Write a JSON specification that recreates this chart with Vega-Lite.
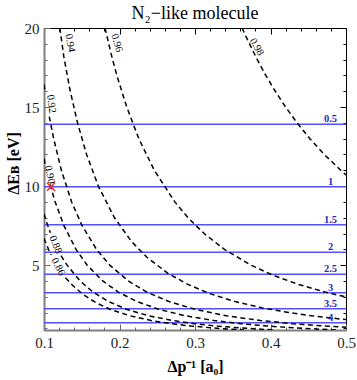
{
 "$schema": "https://vega.github.io/schema/vega-lite/v6.json",
 "width": 302, "height": 302,
 "autosize": "none",
 "padding": {"left": 44, "top": 28, "right": 11, "bottom": 50},
 "background": "white",
 "title": {"text": "N₂−like molecule", "font": "Liberation Serif", "fontSize": 18, "fontWeight": "normal", "color": "black", "baseline": "alphabetic", "offset": -7, "dy": 9},
 "datasets": {
  "curves": [
   {"lev":"0.98","x":0.3624,"y":20},{"lev":"0.98","x":0.3671,"y":19.5},{"lev":"0.98","x":0.3814,"y":18.1},{"lev":"0.98","x":0.3938,"y":17},{"lev":"0.98","x":0.4063,"y":16},{"lev":"0.98","x":0.42,"y":15},{"lev":"0.98","x":0.4352,"y":14},{"lev":"0.98","x":0.4522,"y":13},{"lev":"0.98","x":0.4713,"y":12},{"lev":"0.98","x":0.4931,"y":11},{"lev":"0.98","x":0.5,"y":10.71},
   {"lev":"0.96","x":0.1808,"y":20},{"lev":"0.96","x":0.1903,"y":18.1},{"lev":"0.96","x":0.1965,"y":17},{"lev":"0.96","x":0.2096,"y":15},{"lev":"0.96","x":0.2256,"y":13},{"lev":"0.96","x":0.2461,"y":11},{"lev":"0.96","x":0.2733,"y":9},{"lev":"0.96","x":0.2908,"y":8},{"lev":"0.96","x":0.3121,"y":7},{"lev":"0.96","x":0.339,"y":6},{"lev":"0.96","x":0.3742,"y":5},{"lev":"0.96","x":0.4015,"y":4.4},{"lev":"0.96","x":0.4358,"y":3.8},{"lev":"0.96","x":0.4722,"y":3.3},{"lev":"0.96","x":0.5,"y":2.99},
   {"lev":"0.94","x":0.121,"y":20},{"lev":"0.94","x":0.1262,"y":18.2},{"lev":"0.94","x":0.1348,"y":16},{"lev":"0.94","x":0.1444,"y":14},{"lev":"0.94","x":0.1564,"y":12},{"lev":"0.94","x":0.172,"y":10},{"lev":"0.94","x":0.1933,"y":8},{"lev":"0.94","x":0.2159,"y":6.5},{"lev":"0.94","x":0.2363,"y":5.5},{"lev":"0.94","x":0.2637,"y":4.5},{"lev":"0.94","x":0.2898,"y":3.8},{"lev":"0.94","x":0.3196,"y":3.2},{"lev":"0.94","x":0.3531,"y":2.7},{"lev":"0.94","x":0.389,"y":2.3},{"lev":"0.94","x":0.4246,"y":2.0},{"lev":"0.94","x":0.4545,"y":1.8},{"lev":"0.94","x":0.4918,"y":1.6},{"lev":"0.94","x":0.5,"y":1.57},
   {"lev":"0.92a","x":0.1,"y":16.43},{"lev":"0.92a","x":0.1015,"y":16.0},
   {"lev":"0.92","x":0.107,"y":14.4},{"lev":"0.92","x":0.1128,"y":13},{"lev":"0.92","x":0.123,"y":11},{"lev":"0.92","x":0.1366,"y":9},{"lev":"0.92","x":0.1504,"y":7.5},{"lev":"0.92","x":0.1695,"y":6},{"lev":"0.92","x":0.1871,"y":5},{"lev":"0.92","x":0.2117,"y":4},{"lev":"0.92","x":0.2361,"y":3.3},{"lev":"0.92","x":0.2655,"y":2.7},{"lev":"0.92","x":0.3007,"y":2.2},{"lev":"0.92","x":0.3417,"y":1.8},{"lev":"0.92","x":0.3867,"y":1.5},{"lev":"0.92","x":0.4288,"y":1.3},{"lev":"0.92","x":0.4714,"y":1.15},{"lev":"0.92","x":0.5,"y":1.07},
   {"lev":"0.90a","x":0.1,"y":11.73},{"lev":"0.90a","x":0.1018,"y":11.35},
   {"lev":"0.90","x":0.1081,"y":10.1},{"lev":"0.90","x":0.1148,"y":9},{"lev":"0.90","x":0.1264,"y":7.5},{"lev":"0.90","x":0.1424,"y":6},{"lev":"0.90","x":0.1572,"y":5},{"lev":"0.90","x":0.1779,"y":4},{"lev":"0.90","x":0.1984,"y":3.3},{"lev":"0.90","x":0.2231,"y":2.7},{"lev":"0.90","x":0.2527,"y":2.2},{"lev":"0.90","x":0.2872,"y":1.8},{"lev":"0.90","x":0.325,"y":1.5},{"lev":"0.90","x":0.3604,"y":1.3},{"lev":"0.90","x":0.3962,"y":1.15},{"lev":"0.90","x":0.434,"y":1.03},{"lev":"0.90","x":0.4662,"y":0.95},{"lev":"0.90","x":0.4903,"y":0.9},
   {"lev":"0.88a","x":0.1,"y":8.23},{"lev":"0.88a","x":0.105,"y":7.5},{"lev":"0.88a","x":0.1085,"y":7.05},
   {"lev":"0.88","x":0.1225,"y":5.6},{"lev":"0.88","x":0.1306,"y":5},{"lev":"0.88","x":0.1478,"y":4},{"lev":"0.88","x":0.1649,"y":3.3},{"lev":"0.88","x":0.1854,"y":2.7},{"lev":"0.88","x":0.2099,"y":2.2},{"lev":"0.88","x":0.2386,"y":1.8},{"lev":"0.88","x":0.27,"y":1.5},{"lev":"0.88","x":0.2994,"y":1.3},{"lev":"0.88","x":0.3291,"y":1.15},{"lev":"0.88","x":0.3606,"y":1.03},{"lev":"0.88","x":0.3873,"y":0.95},{"lev":"0.88","x":0.4074,"y":0.9},
   {"lev":"0.86a","x":0.1,"y":6.69},{"lev":"0.86a","x":0.106,"y":6},{"lev":"0.86a","x":0.1095,"y":5.65},
   {"lev":"0.86","x":0.1285,"y":4.2},{"lev":"0.86","x":0.1384,"y":3.7},{"lev":"0.86","x":0.1531,"y":3.1},{"lev":"0.86","x":0.1698,"y":2.6},{"lev":"0.86","x":0.1881,"y":2.2},{"lev":"0.86","x":0.2138,"y":1.8},{"lev":"0.86","x":0.2419,"y":1.5},{"lev":"0.86","x":0.2682,"y":1.3},{"lev":"0.86","x":0.2949,"y":1.15},{"lev":"0.86","x":0.323,"y":1.03},{"lev":"0.86","x":0.347,"y":0.95},{"lev":"0.86","x":0.365,"y":0.9}
  ],
  "levels": [
   {"n":"0.5","x":0.4795,"y":13.91},{"n":"1","x":0.4795,"y":9.96},{"n":"1.5","x":0.4795,"y":7.56},{"n":"2","x":0.4795,"y":5.81},
   {"n":"2.5","x":0.4795,"y":4.42},{"n":"3","x":0.4795,"y":3.25},{"n":"3.5","x":0.4795,"y":2.24},{"n":"4","x":0.4795,"y":1.36}
  ],
  "clabels": [
   {"t":"0.94","x":0.1344,"y":19.05},{"t":"0.96","x":0.1963,"y":19.05},{"t":"0.98","x":0.3817,"y":18.8},
   {"t":"0.92","x":0.1095,"y":15.2},{"t":"0.90","x":0.1075,"y":10.72},{"t":"0.88","x":0.1152,"y":6.3},{"t":"0.86","x":0.1185,"y":4.9}
  ],
  "marker": [{"x":0.1093,"y":9.96}]
 },
 "layer": [
  {
   "data": {"name": "levels"},
   "mark": {"type": "rule", "color": "#5050ff", "strokeWidth": 1.5},
   "encoding": {
    "y": {"field": "y", "type": "quantitative", "scale": {"domain": [0.9, 20], "nice": false, "zero": false},
      "axis": {"orient": "left", "values": [5, 10, 15, 20], "ticks": false, "domain": true, "domainColor": "#808080", "domainWidth": 2, "labels": true, "labelFont": "Liberation Serif", "labelFontSize": 15, "labelColor": "#222", "labelPadding": 5, "labelOverlap": false, "labelFlush": false, "title": "ΔEʙ [eV]", "titleFont": "Liberation Serif", "titleFontSize": 16, "titleFontWeight": "bold", "titleColor": "black", "titlePadding": 3, "titleY": 135, "grid": false}}
   }
  },
  {
   "data": {"name": "curves"},
   "mark": {"type": "line", "color": "black", "strokeWidth": 1.5, "strokeDash": [5, 3.5], "clip": true},
   "encoding": {
    "x": {"field": "x", "type": "quantitative", "scale": {"domain": [0.1, 0.5], "nice": false, "zero": false},
      "axis": {"orient": "bottom", "values": [0.1, 0.2, 0.3, 0.4, 0.5], "format": ".1f", "ticks": false, "domain": true, "domainColor": "#808080", "domainWidth": 2, "labelFont": "Liberation Serif", "labelFontSize": 15, "labelColor": "#222", "labelPadding": 5, "labelFlush": false, "labelOverlap": false, "title": "Δp⁻¹ [a₀]", "titleFont": "Liberation Serif", "titleFontSize": 16, "titleFontWeight": "bold", "titleColor": "black", "titlePadding": 8, "grid": false}},
    "y": {"field": "y", "type": "quantitative", "scale": {"domain": [0.9, 20], "nice": false, "zero": false},
      "axis": {"orient": "left", "values": [5, 10, 15, 20], "labels": false, "domain": false, "ticks": true, "tickSize": -6, "tickColor": "#666", "title": null, "grid": false}},
    "detail": {"field": "lev", "type": "nominal"}
   }
  },
  {
   "data": {"name": "levels"},
   "mark": {"type": "text", "color": "#2828c8", "font": "Liberation Serif", "fontSize": 10.5, "fontWeight": "bold", "align": "center", "baseline": "alphabetic", "dy": -2},
   "encoding": {
    "x": {"field": "x", "type": "quantitative", "scale": {"domain": [0.1, 0.5], "nice": false, "zero": false},
      "axis": {"orient": "bottom", "values": [0.1, 0.2, 0.3, 0.4, 0.5], "labels": false, "domain": false, "ticks": true, "tickSize": -6, "tickColor": "#666", "title": null, "grid": false}},
    "y": {"field": "y", "type": "quantitative", "scale": {"domain": [0.9, 20], "nice": false, "zero": false},
      "axis": {"orient": "left", "values": [1,2,3,4,6,7,8,9,11,12,13,14,16,17,18,19], "labels": false, "domain": false, "ticks": true, "tickSize": -3, "tickColor": "#666", "title": null, "grid": false}},
    "text": {"field": "n", "type": "nominal"}
   }
  },
  {
   "data": {"name": "marker"},
   "mark": {"type": "point", "shape": "M-1,-1L1,1M1,-1L-1,1", "filled": false, "stroke": "#ff2020", "strokeWidth": 1.5, "size": 64, "opacity": 1},
   "encoding": {
    "x": {"field": "x", "type": "quantitative", "scale": {"domain": [0.1, 0.5], "nice": false, "zero": false},
      "axis": {"orient": "bottom", "values": [0.12,0.14,0.16,0.18,0.22,0.24,0.26,0.28,0.32,0.34,0.36,0.38,0.42,0.44,0.46,0.48], "labels": false, "domain": false, "ticks": true, "tickSize": -3, "tickColor": "#666", "title": null, "grid": false}},
    "y": {"field": "y", "type": "quantitative", "scale": {"domain": [0.9, 20], "nice": false, "zero": false},
      "axis": {"orient": "right", "values": [5, 10, 15, 20], "labels": false, "domain": false, "ticks": true, "tickSize": -6, "tickColor": "black", "title": null, "grid": false}}
   }
  },
  {
   "data": {"name": "clabels"},
   "transform": [{"filter": "datum.t == '0.94'"}],
   "mark": {"type": "text", "angle": 80, "font": "Liberation Serif", "fontSize": 10.5, "color": "black", "align": "center", "baseline": "middle"},
   "encoding": {
    "x": {"field": "x", "type": "quantitative", "scale": {"domain": [0.1, 0.5], "nice": false, "zero": false},
      "axis": {"orient": "top", "values": [0.1, 0.2, 0.3, 0.4, 0.5], "labels": false, "domain": false, "ticks": true, "tickSize": -6, "tickColor": "black", "title": null, "grid": false}},
    "y": {"field": "y", "type": "quantitative", "scale": {"domain": [0.9, 20], "nice": false, "zero": false},
      "axis": {"orient": "right", "values": [1,2,3,4,6,7,8,9,11,12,13,14,16,17,18,19], "labels": false, "domain": false, "ticks": true, "tickSize": -3, "tickColor": "black", "title": null, "grid": false}},
    "text": {"field": "t", "type": "nominal"}
   }
  },
  {
   "data": {"name": "clabels"},
   "transform": [{"filter": "datum.t == '0.96'"}],
   "mark": {"type": "text", "angle": 73, "font": "Liberation Serif", "fontSize": 10.5, "color": "black", "align": "center", "baseline": "middle"},
   "encoding": {
    "x": {"field": "x", "type": "quantitative", "scale": {"domain": [0.1, 0.5], "nice": false, "zero": false},
      "axis": {"orient": "top", "values": [0.12,0.14,0.16,0.18,0.22,0.24,0.26,0.28,0.32,0.34,0.36,0.38,0.42,0.44,0.46,0.48], "labels": false, "domain": false, "ticks": true, "tickSize": -3, "tickColor": "black", "title": null, "grid": false}},
    "y": {"field": "y", "type": "quantitative", "scale": {"domain": [0.9, 20], "nice": false, "zero": false}, "axis": null},
    "text": {"field": "t", "type": "nominal"}
   }
  },
  {
   "data": {"name": "clabels"},
   "transform": [{"filter": "datum.t == '0.98'"}],
   "mark": {"type": "text", "angle": 61, "font": "Liberation Serif", "fontSize": 10.5, "color": "black", "align": "center", "baseline": "middle"},
   "encoding": {
    "x": {"field": "x", "type": "quantitative", "axis": null},
    "y": {"field": "y", "type": "quantitative", "axis": null},
    "text": {"field": "t", "type": "nominal"}
   }
  },
  {
   "data": {"name": "clabels"},
   "transform": [{"filter": "datum.t == '0.92'"}],
   "mark": {"type": "text", "angle": 82, "font": "Liberation Serif", "fontSize": 10.5, "color": "black", "align": "center", "baseline": "middle"},
   "encoding": {
    "x": {"field": "x", "type": "quantitative", "axis": null},
    "y": {"field": "y", "type": "quantitative", "axis": null},
    "text": {"field": "t", "type": "nominal"}
   }
  },
  {
   "data": {"name": "clabels"},
   "transform": [{"filter": "datum.t == '0.90'"}],
   "mark": {"type": "text", "angle": 78, "font": "Liberation Serif", "fontSize": 10.5, "color": "black", "align": "center", "baseline": "middle"},
   "encoding": {
    "x": {"field": "x", "type": "quantitative", "axis": null},
    "y": {"field": "y", "type": "quantitative", "axis": null},
    "text": {"field": "t", "type": "nominal"}
   }
  },
  {
   "data": {"name": "clabels"},
   "transform": [{"filter": "datum.t == '0.88'"}],
   "mark": {"type": "text", "angle": 68, "font": "Liberation Serif", "fontSize": 10.5, "color": "black", "align": "center", "baseline": "middle"},
   "encoding": {
    "x": {"field": "x", "type": "quantitative", "axis": null},
    "y": {"field": "y", "type": "quantitative", "axis": null},
    "text": {"field": "t", "type": "nominal"}
   }
  },
  {
   "data": {"name": "clabels"},
   "transform": [{"filter": "datum.t == '0.86'"}],
   "mark": {"type": "text", "angle": 62, "font": "Liberation Serif", "fontSize": 10.5, "color": "black", "align": "center", "baseline": "middle"},
   "encoding": {
    "x": {"field": "x", "type": "quantitative", "axis": null},
    "y": {"field": "y", "type": "quantitative", "axis": null},
    "text": {"field": "t", "type": "nominal"}
   }
  }
 ],
 "resolve": {"axis": {"x": "independent", "y": "independent"}},
 "config": {
  "font": "Liberation Serif",
  "view": {"stroke": "black", "strokeWidth": 1},
  "axis": {"labelFont": "Liberation Serif", "titleFont": "Liberation Serif"},
  "text": {"font": "Liberation Serif"},
  "title": {"anchor": "middle", "font": "Liberation Serif"}
 }
}
